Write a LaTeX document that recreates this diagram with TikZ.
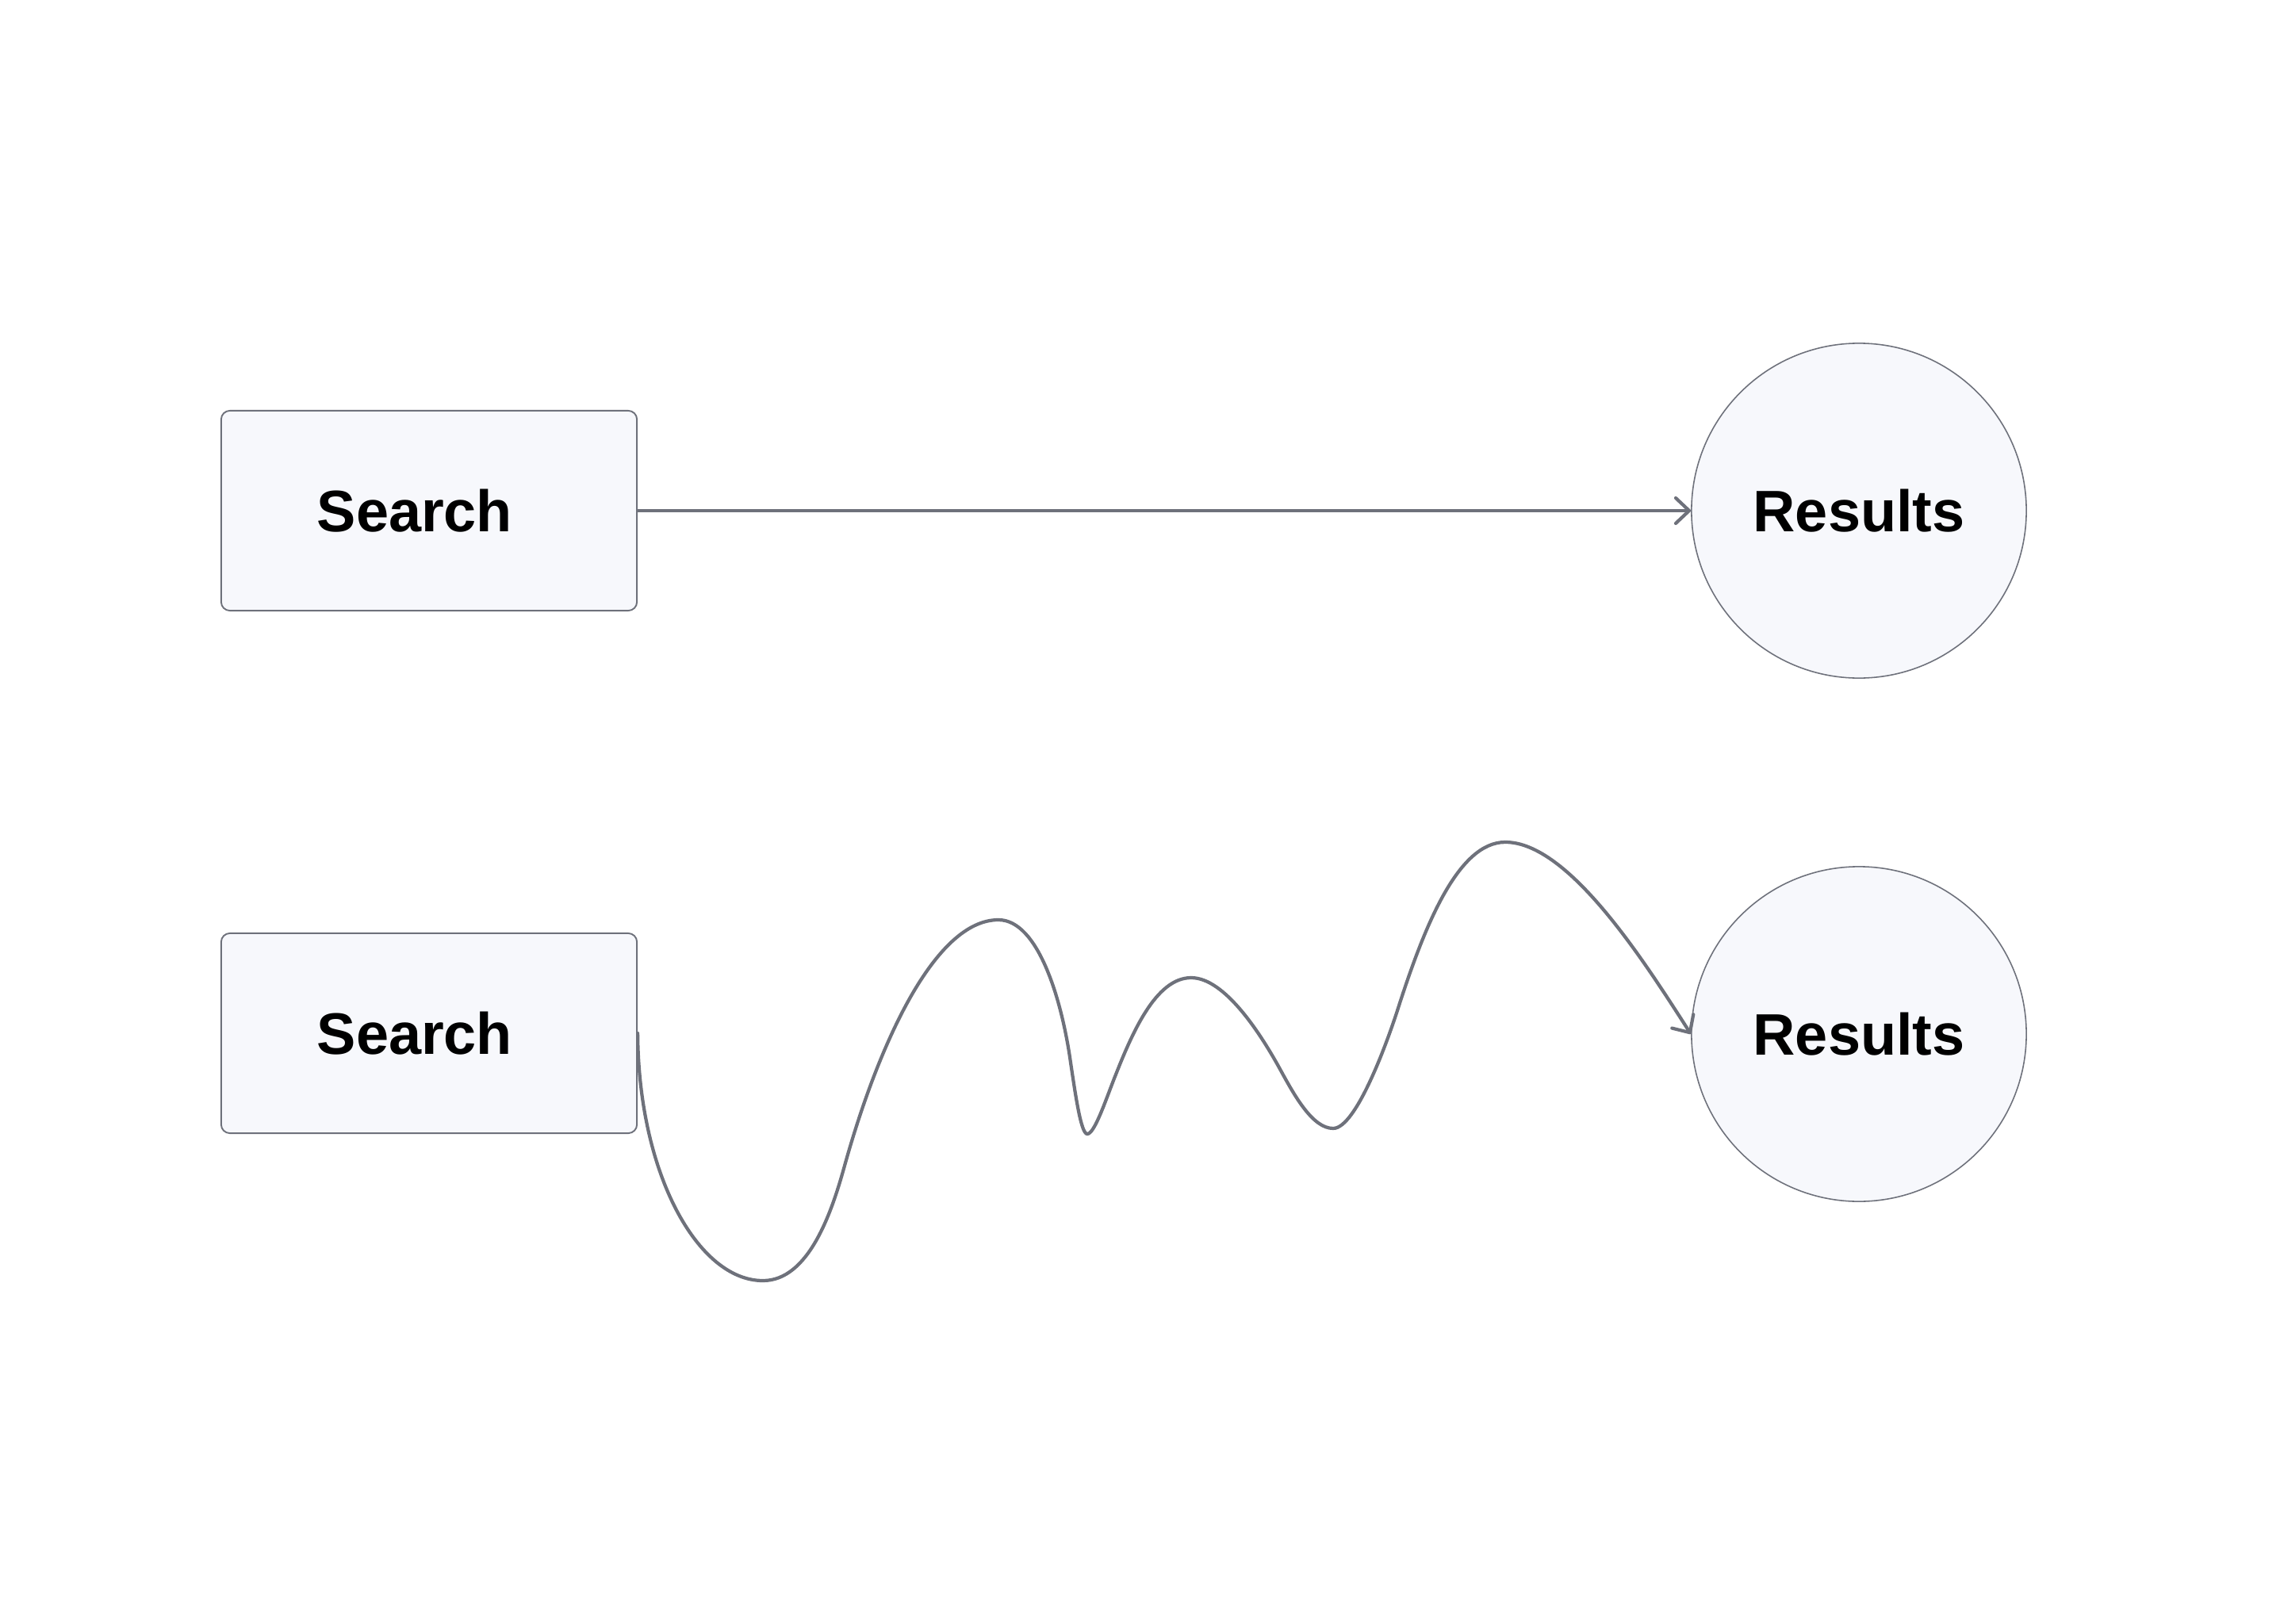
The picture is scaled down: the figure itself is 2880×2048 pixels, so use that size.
\documentclass[tikz,border=0pt]{standalone}
\usepackage{fontspec}
\setmainfont{Liberation Sans}
\usetikzlibrary{arrows.meta}
\definecolor{edgec}{HTML}{6E717B}
\definecolor{fillc}{HTML}{F7F8FC}
\begin{document}
\begin{tikzpicture}[x=0.01cm,y=-0.01cm,
  labelfont/.style={font=\fontsize{21}{25}\selectfont\bfseries},
  boxnode/.style={draw=edgec, line width=0.55pt, fill=fillc, rounded corners=0.11cm,
    minimum width=5.24cm, minimum height=2.52cm, inner sep=0pt, labelfont},
  circnode/.style={circle, draw=edgec, line width=0.45pt, fill=fillc,
    minimum size=4.22cm, inner sep=0pt, labelfont},
  conn/.style={draw=edgec, line width=1.2pt, line cap=round,
    -{Straight Barb[length=0.17cm,width=0.32cm,round]}}]
\useasboundingbox (0,0) rectangle (2880,2048);
\node[boxnode] (s1) at (541,644) {Search\hspace*{0.36cm}};
\node[circnode] (r1) at (2344,644) {Results};
\node[boxnode] (s2) at (541,1303) {Search\hspace*{0.36cm}};
\node[circnode] (r2) at (2344,1304) {Results};
\draw[conn] (s1.east) -- (r1.west);
\draw[conn] (s2.east)
  .. controls (805,1480) and (880,1615) .. (962,1615)
  .. controls (1020,1615) and (1049,1528) .. (1065,1470)
  .. controls (1108,1316) and (1179,1160) .. (1259,1160)
  .. controls (1309,1160) and (1339,1261) .. (1350,1340)
  .. controls (1356,1380) and (1363,1430) .. (1371,1430)
  .. controls (1380,1430) and (1394,1388) .. (1405,1360)
  .. controls (1427,1304) and (1457,1233) .. (1502,1233)
  .. controls (1545,1233) and (1591,1306) .. (1615,1350)
  .. controls (1632,1381) and (1655,1423) .. (1681,1423)
  .. controls (1710,1423) and (1750,1313) .. (1765,1265)
  .. controls (1796,1170) and (1838,1062) .. (1898,1062)
  .. controls (1978,1062) and (2073,1212) .. (r2.west);
\end{tikzpicture}
\end{document}
